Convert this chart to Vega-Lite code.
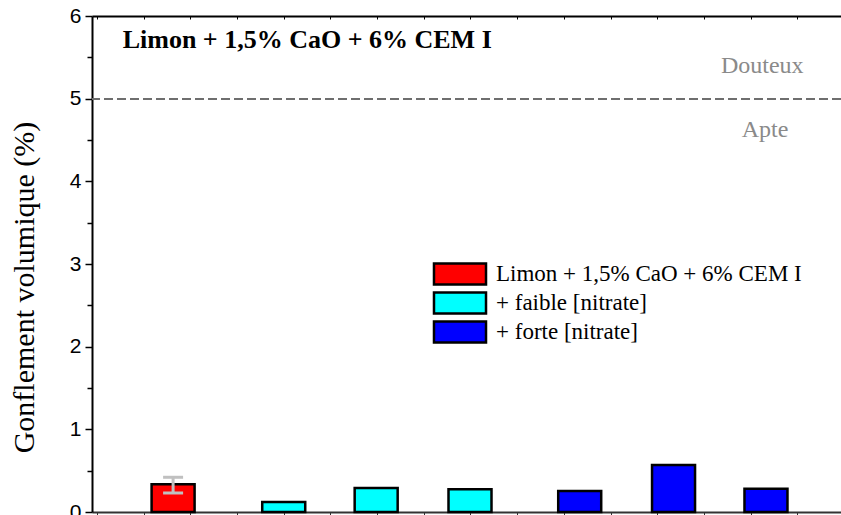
{
  "$schema": "https://vega.github.io/schema/vega-lite/v6.json",
  "width": 749,
  "height": 496,
  "autosize": {"type": "none"},
  "padding": {"left": 92, "top": 16, "right": 0, "bottom": 3},
  "background": "white",
  "config": {"view": {"stroke": null}},
  "data": {"values": [
    {"serie": "Limon + 1,5% CaO + 6% CEM I", "pos": 1.63, "gonflement": 0.335},
    {"serie": "+ faible [nitrate]", "pos": 4.0, "gonflement": 0.12},
    {"serie": "+ faible [nitrate]", "pos": 5.98, "gonflement": 0.29},
    {"serie": "+ faible [nitrate]", "pos": 7.99, "gonflement": 0.275},
    {"serie": "+ forte [nitrate]", "pos": 10.34, "gonflement": 0.254},
    {"serie": "+ forte [nitrate]", "pos": 12.35, "gonflement": 0.568},
    {"serie": "+ forte [nitrate]", "pos": 14.33, "gonflement": 0.28}
  ]},
  "resolve": {"axis": {"x": "independent", "y": "independent"}},
  "layer": [
    {
      "mark": {"type": "rule", "color": "#6e6e6e", "strokeWidth": 1.5, "strokeDash": [9, 4]},
      "encoding": {
        "y": {"datum": 5, "type": "quantitative", "scale": {"domain": [0, 6]}, "axis": null}
      }
    },
    {
      "mark": {"type": "bar", "width": 43, "stroke": "black", "strokeWidth": 2.5},
      "encoding": {
        "x": {"field": "pos", "type": "quantitative", "scale": {"domain": [0, 15.83], "nice": false, "zero": false},
          "axis": {"orient": "bottom", "title": null, "labels": false, "values": [0,1,2,3,4,5,6,7,8,9,10,11,12,13,14,15], "tickSize": 3, "tickColor": "#333333", "domainColor": "#333333", "domainWidth": 2, "grid": false}},
        "y": {"field": "gonflement", "type": "quantitative", "scale": {"domain": [0, 6], "nice": false},
          "axis": {"orient": "left", "values": [0,1,2,3,4,5,6], "title": "Gonflement volumique (%)", "titleFont": "Liberation Serif, Times New Roman, serif", "titleFontSize": 30, "titleFontWeight": "normal", "titleColor": "black", "titleAngle": -90, "titleX": -59, "titleY": 271, "titleAlign": "center", "titleBaseline": "alphabetic",
            "labelFont": "Liberation Sans, Arial, sans-serif", "labelFontSize": 21, "labelColor": "black", "labelPadding": 4, "tickSize": 7, "tickWidth": 1.5, "tickColor": "black", "domainColor": "black", "domainWidth": 2, "grid": false}},
        "fill": {"field": "serie", "type": "nominal",
          "scale": {"domain": ["Limon + 1,5% CaO + 6% CEM I", "+ faible [nitrate]", "+ forte [nitrate]"], "range": ["#ff0000", "#00ffff", "#0000ff"]},
          "legend": {"orient": "none", "legendX": 356, "legendY": 246, "title": null, "padding": 0,
            "symbolType": "M-2.5,-1H2.5V1H-2.5Z", "symbolSize": 433, "symbolStrokeColor": "black", "symbolStrokeWidth": 2.5, "symbolOpacity": 1,
            "labelFont": "Liberation Serif, Times New Roman, serif", "labelFontSize": 23, "labelColor": "black", "labelOffset": 24, "rowPadding": -3, "labelLimit": 500}}
      }
    },
    {
      "data": {"values": [{"pos": 1.63, "bas": 0.23, "haut": 0.42}]},
      "mark": {"type": "rule", "color": "#c0c0c0", "strokeWidth": 3},
      "encoding": {
        "x": {"field": "pos", "type": "quantitative", "axis": null},
        "y": {"field": "bas", "type": "quantitative", "axis": null},
        "y2": {"field": "haut"}
      }
    },
    {
      "data": {"values": [{"pos": 1.63, "borne": 0.23}, {"pos": 1.63, "borne": 0.42}]},
      "mark": {"type": "tick", "orient": "horizontal", "color": "#c0c0c0", "size": 20, "thickness": 3, "opacity": 1},
      "encoding": {
        "x": {"field": "pos", "type": "quantitative", "axis": null},
        "y": {"field": "borne", "type": "quantitative", "axis": null}
      }
    },
    {
      "data": {"values": [
        {"label": "Douteux", "px": 14.25, "py": 5.31},
        {"label": "Apte", "px": 14.31, "py": 4.54}
      ]},
      "mark": {"type": "text", "font": "Liberation Serif, Times New Roman, serif", "fontSize": 24, "color": "#8a8a8a", "align": "center", "baseline": "alphabetic"},
      "encoding": {
        "x": {"field": "px", "type": "quantitative", "axis": null},
        "y": {"field": "py", "type": "quantitative", "axis": null},
        "text": {"field": "label"}
      }
    },
    {
      "data": {"values": [{"label": "Limon + 1,5% CaO + 6% CEM I", "px": 0.55, "py": 5.61}]},
      "mark": {"type": "text", "font": "Liberation Serif, Times New Roman, serif", "fontSize": 26, "fontWeight": "bold", "color": "black", "align": "left", "baseline": "alphabetic"},
      "encoding": {
        "x": {"field": "px", "type": "quantitative", "axis": {"orient": "top", "title": null, "labels": false, "values": [0,1,2,3,4,5,6,7,8,9,10,11,12,13,14,15], "tickSize": -3, "tickColor": "black", "domainColor": "black", "domainWidth": 2, "grid": false}},
        "y": {"field": "py", "type": "quantitative", "axis": {"orient": "left", "title": null, "labels": false, "values": [0.5,1.5,2.5,3.5,4.5,5.5], "tickSize": 5, "tickWidth": 1.5, "tickColor": "black", "domain": false, "grid": false}},
        "text": {"field": "label"}
      }
    }
  ]
}
